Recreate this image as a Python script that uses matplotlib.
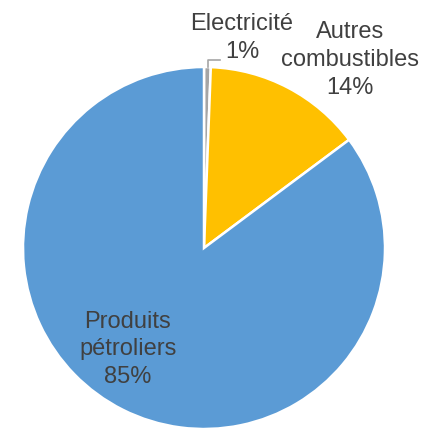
import matplotlib.pyplot as plt

plt.rcParams['font.family'] = ['Liberation Sans', 'DejaVu Sans']

categories = ['Electricité', 'Autres\ncombustibles', 'Produits\npétroliers']
shares = [0.6, 14.2, 85.2]
pct_labels = ['1%', '14%', '85%']
colors = ['#A5A5A5', '#FFC000', '#5B9BD5']

W, H = 421, 428
fig = plt.figure(figsize=(W / 100, H / 100), dpi=100)
ax = fig.add_axes([0, 0, 1, 1])

cx, cy, r = 204, H - 248, 181
ax.pie(shares, colors=colors, startangle=90, counterclock=False,
       center=(cx, cy), radius=r, frame=True,
       wedgeprops=dict(edgecolor='white', linewidth=1.8))
ax.set_xlim(0, W)
ax.set_ylim(0, H)
ax.set_aspect('equal')
ax.axis('off')

# each label line drawn on its own so the boxes stay apart
txt = dict(color='#404040', fontsize=17, ha='center', va='center')
label_top = [(242, 24), (350, 32), (128, 322)]   # first line centre, px from top
line_gap = [28, 28, 27.5]
for name, pct, (x, y0), gap in zip(categories, pct_labels, label_top, line_gap):
    lines = name.split('\n') + [pct]
    for i, line in enumerate(lines):
        ax.text(x, H - (y0 + i * gap), line, **txt)

# leader line for the small slice
ax.plot([220, 208, 208], [H - 60, H - 60, H - 67], color='#A6A6A6', lw=1.2)

fig.savefig('out.png', dpi=100)
